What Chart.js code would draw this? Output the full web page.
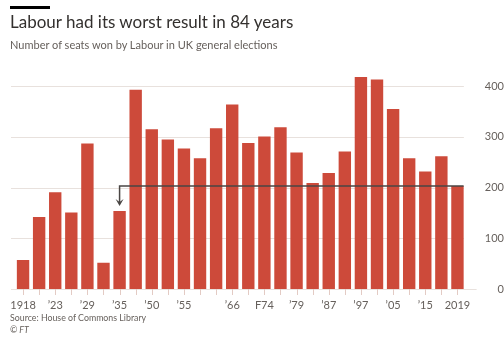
<!DOCTYPE html>
<html>
<head>
<meta charset="utf-8">
<script src="https://cdn.jsdelivr.net/npm/chart.js@4"></script>
<style>
  html, body { margin: 0; padding: 0; background: #fff; }
  body { width: 504px; height: 340px; position: relative; overflow: hidden; font-family: Lato, sans-serif; }
  #bar { position: absolute; left: 10px; top: 6px; width: 40px; height: 3px; background: #000; }
  #title { position: absolute; left: 10px; top: 11px; font-size: 17px; color: #33302e; white-space: nowrap; }
  #subtitle { position: absolute; left: 10px; top: 38px; font-size: 11px; color: #66605c; white-space: nowrap; }
  #source { position: absolute; left: 10px; top: 312px; font-size: 8.8px; color: #66605c; white-space: nowrap; }
  #ft { position: absolute; left: 10px; top: 324px; font-size: 8.8px; color: #66605c; font-style: italic; }
  #wrap { position: absolute; left: 0; top: 0; width: 504px; height: 340px; }
</style>
</head>
<body>
<div id="wrap"><canvas id="chart"></canvas></div>
<div id="bar"></div>
<div id="title">Labour had its worst result in 84 years</div>
<div id="subtitle">Number of seats won by Labour in UK general elections</div>
<div id="source">Source: House of Commons Library</div>
<div id="ft">© FT</div>
<script>
// elections and seats won by Labour
const elections = ['1918', '1922', '1923', '1924', '1929', '1931', '1935', '1945', '1950', '1951',
    '1955', '1959', '1964', '1966', '1970', 'Feb 1974', 'Oct 1974', '1979', '1983', '1987',
    '1992', '1997', '2001', '2005', '2010', '2015', '2017', '2019'];
const seats = [57, 142, 191, 151, 287, 52, 154, 393, 315, 295,
    277, 258, 317, 364, 288, 301, 319, 269, 209, 229,
    271, 418, 413, 355, 258, 232, 262, 203];
// only some elections get a label on the axis
const tickLabels = ['1918', '', '’23', '', '’29', '', '’35', '', '’50', '',
    '’55', '', '', '’66', '', 'F74', '', '’79', '', '’87',
    '', '’97', '', '’05', '', '’15', '', '2019'];
const yTicks = [0, 100, 200, 300, 400];
const latest = 203;      // 2019 result, line drawn back to...
const sinceIndex = 6;    // ...1935

const labelFont = '11px Lato, sans-serif';

// horizontal gridlines (stopping short of the labels) and small ticks under each bar
const gridPlugin = {
    id: 'grid',
    beforeDatasetsDraw(chart) {
        const ctx = chart.ctx;
        const x = chart.scales.x;
        const y = chart.scales.y;
        ctx.save();
        ctx.font = labelFont;
        ctx.strokeStyle = '#e8e1dd';
        ctx.lineWidth = 1;
        yTicks.forEach(v => {
            const py = Math.round(y.getPixelForValue(v)) + 0.5;
            const w = ctx.measureText(String(v)).width;
            ctx.beginPath();
            ctx.moveTo(11, py);
            ctx.lineTo(488 - w - 5, py);
            ctx.stroke();
        });
        const base = Math.round(y.getPixelForValue(0));
        ctx.strokeStyle = '#e3cbc4';
        elections.forEach((e, i) => {
            const px = Math.round(x.getPixelForValue(i)) + 0.5;
            ctx.beginPath();
            ctx.moveTo(px, base);
            ctx.lineTo(px, base + 6);
            ctx.stroke();
        });
        ctx.restore();
    }
};

// line at the 2019 level back to 1935 with an arrow
const refPlugin = {
    id: 'refline',
    afterDatasetsDraw(chart) {
        const ctx = chart.ctx;
        const x = chart.scales.x;
        const y = chart.scales.y;
        const bar = chart.getDatasetMeta(0).data;
        const x0 = x.getPixelForValue(sinceIndex);
        const x1 = bar[bar.length - 1].x + bar[bar.length - 1].width / 2;
        const py = y.getPixelForValue(latest);
        const tip = y.getPixelForValue(seats[sinceIndex]) - 5;
        ctx.save();
        ctx.strokeStyle = '#4a4644';
        ctx.fillStyle = '#4a4644';
        ctx.lineWidth = 1.5;
        ctx.beginPath();
        ctx.moveTo(x1, py);
        ctx.lineTo(x0, py);
        ctx.lineTo(x0, tip - 4);
        ctx.stroke();
        ctx.beginPath();
        ctx.moveTo(x0 - 4, tip - 7);
        ctx.lineTo(x0, tip - 4);
        ctx.lineTo(x0 + 4, tip - 7);
        ctx.lineTo(x0, tip);
        ctx.closePath();
        ctx.fill();
        ctx.restore();
    }
};

new Chart(document.getElementById('chart'), {
    type: 'bar',
    data: {
        labels: elections,
        datasets: [{
            data: seats,
            backgroundColor: '#cd4a3a',
            borderWidth: 0,
            barPercentage: 0.77,
            categoryPercentage: 1
        }]
    },
    options: {
        responsive: true,
        maintainAspectRatio: false,
        animation: false,
        layout: { padding: { left: 15, top: 71, right: 0, bottom: 0 } },
        plugins: {
            legend: { display: false },
            tooltip: { enabled: false }
        },
        scales: {
            x: {
                offset: true,
                border: { display: false },
                grid: { display: false },
                ticks: {
                    autoSkip: false,
                    maxRotation: 0,
                    padding: 2,
                    color: '#66605c',
                    font: { family: 'Lato, sans-serif', size: 11 },
                    callback: (v, i) => tickLabels[i]
                },
                afterFit(scale) { scale.height = 51; }
            },
            y: {
                position: 'right',
                min: 0,
                max: 430,
                border: { display: false },
                grid: { display: false },
                ticks: {
                    stepSize: 100,
                    padding: 5,
                    crossAlign: 'far',
                    color: '#66605c',
                    font: { family: 'Lato, sans-serif', size: 11 }
                },
                afterBuildTicks(scale) {
                    scale.ticks = yTicks.map(v => ({ value: v }));
                },
                afterFit(scale) { scale.width = 38.5; }
            }
        }
    },
    plugins: [gridPlugin, refPlugin]
});
</script>
</body>
</html>
